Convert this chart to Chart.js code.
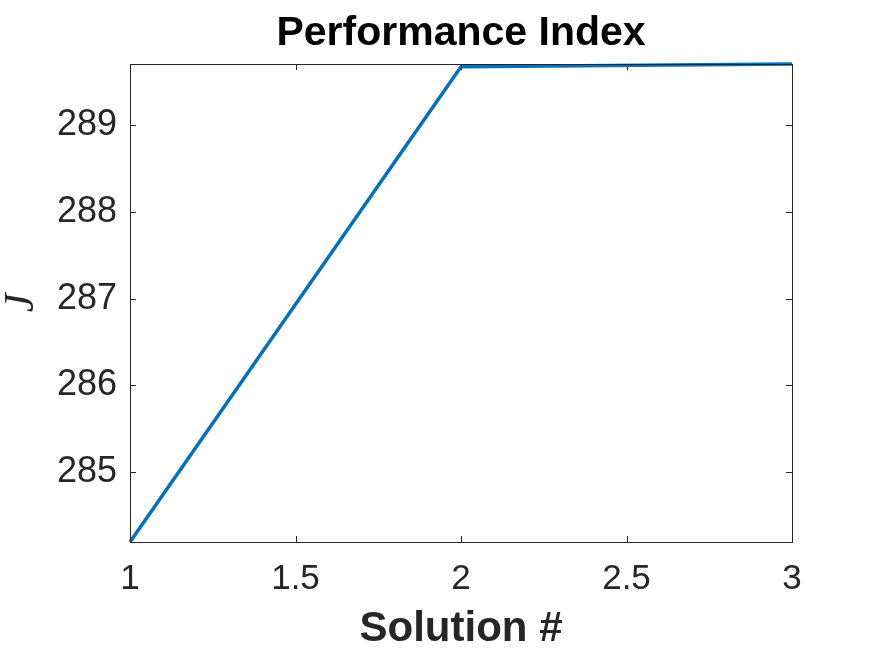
<!DOCTYPE html>
<html>
<head>
<meta charset="utf-8">
<script src="https://cdn.jsdelivr.net/npm/chart.js@4.4.1/dist/chart.umd.min.js"></script>
<style>
  html, body { margin: 0; padding: 0; background: #ffffff; }
  #wrap { width: 875px; height: 657px; position: relative; }
</style>
</head>
<body>
<div id="wrap"><canvas id="c"></canvas></div>
<script>
const solutions = [1, 2, 3];
const perfJ = [284.197, 289.672, 289.703];
const xTickValues = [1, 1.5, 2, 2.5, 3];
const yTickValues = [285, 286, 287, 288, 289];
const chartTitle = 'Performance Index';

const axisColor = '#262626';

const boxPlugin = {
  id: 'matlabBox',
  afterDraw(chart) {
    const { ctx, chartArea: a, scales } = chart;
    ctx.save();
    ctx.strokeStyle = axisColor;
    ctx.lineWidth = 1;
    ctx.strokeRect(Math.round(a.left) + 0.5, Math.round(a.top) + 0.5,
                   Math.round(a.right - a.left), Math.round(a.bottom - a.top));
    const tl = 6;
    ctx.beginPath();
    scales.x.ticks.forEach(t => {
      const px = Math.round(scales.x.getPixelForValue(t.value)) + 0.5;
      ctx.moveTo(px, a.bottom); ctx.lineTo(px, a.bottom - tl);
      ctx.moveTo(px, a.top); ctx.lineTo(px, a.top + tl);
    });
    scales.y.ticks.forEach(t => {
      const py = Math.round(scales.y.getPixelForValue(t.value)) + 0.5;
      ctx.moveTo(a.left, py); ctx.lineTo(a.left + tl, py);
      ctx.moveTo(a.right, py); ctx.lineTo(a.right - tl, py);
    });
    ctx.stroke();
    // title centered over the axes box
    ctx.fillStyle = '#000000';
    ctx.font = 'bold 41px "Liberation Sans", Arial, sans-serif';
    ctx.textAlign = 'center';
    ctx.textBaseline = 'middle';
    ctx.fillText(chartTitle, (a.left + a.right) / 2, 34);
    ctx.restore();
  }
};

new Chart(document.getElementById('c'), {
  type: 'line',
  data: {
    datasets: [{
      data: solutions.map((s, i) => ({ x: s, y: perfJ[i] })),
      borderColor: '#0072BD',
      borderWidth: 3.5,
      pointRadius: 0,
      tension: 0,
      fill: false,
      clip: false
    }]
  },
  options: {
    responsive: true,
    maintainAspectRatio: false,
    animation: false,
    layout: { padding: { left: 0, right: 83, top: 64, bottom: 0 } },
    plugins: {
      legend: { display: false },
      tooltip: { enabled: false },
      title: { display: false }
    },
    scales: {
      x: {
        type: 'linear',
        min: solutions[0],
        max: solutions[solutions.length - 1],
        afterBuildTicks: s => { s.ticks = xTickValues.map(v => ({ value: v })); },
        afterFit: s => { s.height = 115; },
        grid: { display: false, drawTicks: false },
        border: { display: false },
        ticks: {
          color: axisColor,
          padding: 16,
          maxRotation: 0,
          font: { family: '"Liberation Sans", Arial, sans-serif', size: 35 },
          callback: v => String(v)
        },
        title: {
          display: true,
          text: 'Solution #',
          color: axisColor,
          font: { family: '"Liberation Sans", Arial, sans-serif', size: 42, weight: 'bold' },
          padding: { top: 0, bottom: 2 }
        }
      },
      y: {
        type: 'linear',
        min: Math.min(...perfJ),
        max: Math.max(...perfJ),
        afterBuildTicks: s => { s.ticks = yTickValues.map(v => ({ value: v })); },
        afterFit: s => { s.width = 130; },
        grid: { display: false, drawTicks: false },
        border: { display: false },
        ticks: {
          color: axisColor,
          padding: 13,
          font: { family: '"Liberation Sans", Arial, sans-serif', size: 36 },
          callback: v => String(v)
        },
        title: {
          display: true,
          text: 'J',
          color: axisColor,
          font: { family: '"Liberation Serif", "DejaVu Serif", serif', size: 42, style: 'italic' },
          padding: { top: -3, bottom: 0 }
        }
      }
    }
  },
  plugins: [boxPlugin]
});
</script>
</body>
</html>
